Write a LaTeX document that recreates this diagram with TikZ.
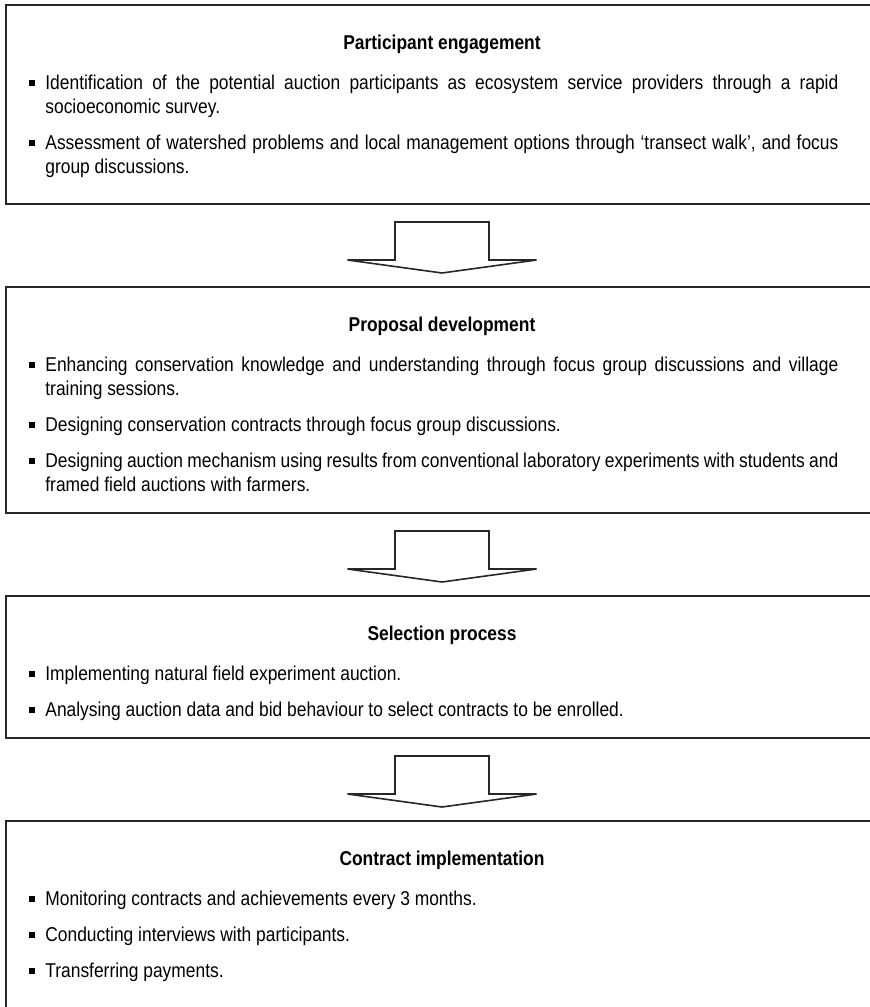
\documentclass[tikz,border=0pt]{standalone}
\usepackage{fontspec}
\setmainfont{Liberation Sans}[FakeStretch=0.87]
\usetikzlibrary{positioning, calc}

% bullet point with hanging indent
\newcommand\bpoint[1]{\noindent\hangindent=8pt\hangafter=1
  \makebox[8pt][l]{\rule[1.6pt]{2.9pt}{2.9pt}}#1\par}
\newcommand\bodysetup{\setlength{\parskip}{6pt}\hyphenpenalty=10000
  \tolerance=9999\relax}

\tikzset{
  panel/.style={rectangle, draw=black!85, line width=1.4pt,
    inner sep=0pt, outer sep=0pt, minimum width=436pt},
  paneltitle/.style={anchor=base, inner sep=0pt,
    font=\fontsize{10}{12}\selectfont\bfseries},
  panelbody/.style={anchor=base west, inner sep=0pt, text width=404.5pt,
    align=justify, font=\fontsize{10}{12}\selectfont,
    execute at begin node=\bodysetup},
  flowarrow/.pic={
    \draw[line width=0.8pt, black!85, line join=miter]
      (-47,0) -- (47,0) -- (47,38) -- (94.5,38) -- (0,51)
      -- (-94.5,38) -- (-47,38) -- cycle;
  }
}

\begin{document}
\begin{tikzpicture}[x=0.5pt, y=-0.5pt,
            node distance = 41.5pt]

        \useasboundingbox (0,0) rectangle (869,1007);

        % Participant engagement
        \node (engage) [panel,
            anchor=north west,
            minimum height=99.5pt] at (6,5) {};
        \node (engage-t) [paneltitle] at ($(engage.north)+(0,44)$)
            {Participant engagement};
        \node (engage-b) [panelbody] at ($(engage.north west)+(23,84)$) {%
            \bpoint{Identification of the potential auction participants as ecosystem service providers through a rapid\linebreak socioeconomic survey.}%
            \bpoint{Assessment of watershed problems and local management options through ‘transect walk’, and focus\linebreak group discussions.}};

        % Proposal development
        \node (propose) [panel,
            below = of engage,
            minimum height=113pt] {};
        \node (propose-t) [paneltitle] at ($(propose.north)+(0,44)$)
            {Proposal development};
        \node (propose-b) [panelbody] at ($(propose.north west)+(23,84)$) {%
            \bpoint{Enhancing conservation knowledge and understanding through focus group discussions and village\linebreak training sessions.}%
            \bpoint{Designing conservation contracts through focus group discussions.}%
            \bpoint{Designing auction mechanism using results from conventional laboratory experiments with students and\linebreak framed field auctions with farmers.}};

        % Selection process
        \node (select) [panel,
            below = of propose,
            minimum height=71pt] {};
        \node (select-t) [paneltitle] at ($(select.north)+(0,44)$)
            {Selection process};
        \node (select-b) [panelbody] at ($(select.north west)+(23,84)$) {%
            \bpoint{Implementing natural field experiment auction.}%
            \bpoint{Analysing auction data and bid behaviour to select contracts to be enrolled.}};

        % Contract implementation
        \node (contract) [panel,
            below = of select,
            minimum height=97.5pt] {};
        \node (contract-t) [paneltitle] at ($(contract.north)+(0,44)$)
            {Contract implementation};
        \node (contract-b) [panelbody] at ($(contract.north west)+(23,84)$) {%
            \bpoint{Monitoring contracts and achievements every 3 months.}%
            \bpoint{Conducting interviews with participants.}%
            \bpoint{Transferring payments.}};

        % Arrows
        \pic at ($(engage.south)+(0,18)$) {flowarrow};
        \pic at ($(propose.south)+(0,18)$) {flowarrow};
        \pic at ($(select.south)+(0,18)$) {flowarrow};
\end{tikzpicture}
\end{document}
